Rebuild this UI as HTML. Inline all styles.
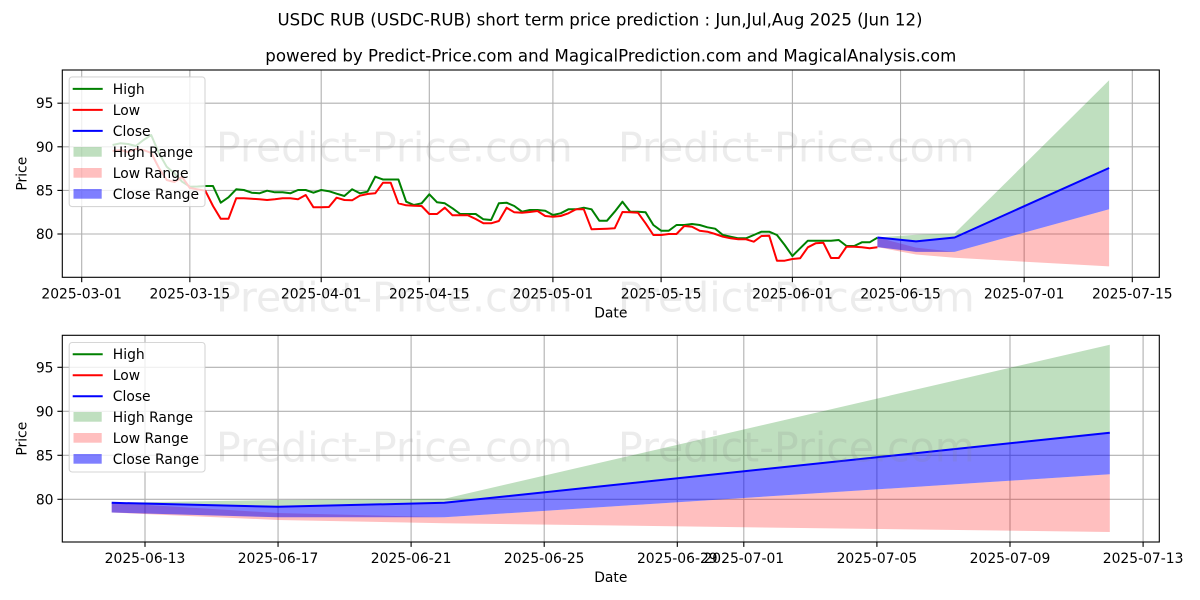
<!DOCTYPE html>
<html>
<head>
<meta charset="utf-8">
<style>
html,body{margin:0;padding:0;background:#fff;}
svg{display:block;}
text{font-family:"DejaVu Sans","Liberation Sans",sans-serif;fill:#000;}
.tk{font-size:13.89px;}
.wm{font-size:41px;fill:#808080;fill-opacity:0.15;}
</style>
</head>
<body>
<svg width="1200" height="600" viewBox="0 0 1200 600" xmlns="http://www.w3.org/2000/svg">
<rect x="0" y="0" width="1200" height="600" fill="#fff"/>

<!-- Titles -->
<text x="600" y="25.5" text-anchor="middle" font-size="16.67" textLength="645" lengthAdjust="spacingAndGlyphs">USDC RUB (USDC-RUB) short term price prediction : Jun,Jul,Aug 2025 (Jun 12)</text>
<text x="610.8" y="61.7" text-anchor="middle" font-size="16.67" textLength="691" lengthAdjust="spacingAndGlyphs">powered by Predict-Price.com and MagicalPrediction.com and MagicalAnalysis.com</text>

<!-- ================= TOP CHART ================= -->
<g stroke="#b0b0b0" stroke-width="1.1" fill="none">
  <line x1="81.7" y1="70" x2="81.7" y2="277.3"/>
  <line x1="189.85" y1="70" x2="189.85" y2="277.3"/>
  <line x1="321.2" y1="70" x2="321.2" y2="277.3"/>
  <line x1="429.3" y1="70" x2="429.3" y2="277.3"/>
  <line x1="552.9" y1="70" x2="552.9" y2="277.3"/>
  <line x1="661.1" y1="70" x2="661.1" y2="277.3"/>
  <line x1="792.4" y1="70" x2="792.4" y2="277.3"/>
  <line x1="900.55" y1="70" x2="900.55" y2="277.3"/>
  <line x1="1024.15" y1="70" x2="1024.15" y2="277.3"/>
  <line x1="1132.3" y1="70" x2="1132.3" y2="277.3"/>
  <line x1="62.3" y1="103.2" x2="1159.3" y2="103.2"/>
  <line x1="62.3" y1="146.8" x2="1159.3" y2="146.8"/>
  <line x1="62.3" y1="190.4" x2="1159.3" y2="190.4"/>
  <line x1="62.3" y1="234" x2="1159.3" y2="234"/>
</g>

<!-- prediction fills top -->
<polygon points="877.4,237.5 916,234.7 954.6,233.4 1109.1,80.3 1109.1,168 954.6,237.5 916,241.4 877.4,237.5" fill="#008000" fill-opacity="0.25"/>
<polygon points="877.4,237.5 916,247.6 954.6,251.9 1109.1,209.2 1109.1,266.4 954.6,257.8 916,254.5 877.4,247.1" fill="#ff0000" fill-opacity="0.25"/>
<polygon points="877.4,237.5 916,241.4 954.6,237.5 1109.1,168 1109.1,209.2 954.6,251.9 916,251.9 877.4,247.1" fill="#0000ff" fill-opacity="0.5"/>

<!-- historical lines -->
<polyline fill="none" stroke="#008000" stroke-width="2" stroke-linejoin="round" points="112.6,145 120.3,143.3 128.05,144 135.8,146 143.5,140 151.2,135 158.95,153.3 166.7,166.7 174.4,173.3 182.1,181.7 189.85,186.7 197.6,186.5 205.3,186 213,186 220.75,202.7 228.5,197.3 236.2,189.3 243.9,190 251.65,192.7 259.4,193.3 267.1,190.7 274.8,192.3 282.55,192.3 290.3,193.3 298,190 305.7,190 313.45,192.7 321.2,190 328.9,191.2 336.6,193.7 344.35,196 352.1,189.3 359.8,193.3 367.5,191.7 375.25,176.7 383,179.5 390.7,179.5 398.4,179.5 406.15,201.7 413.9,205 421.6,203.3 429.3,194.3 437.05,202.3 444.8,203.3 452.5,208.3 460.2,214 467.95,214 475.7,214 483.4,219.3 491.1,220 498.85,203.3 506.6,202.7 514.3,206 522,211.7 529.75,210 537.5,210 545.2,210.7 552.9,215 560.65,213.3 568.4,209.3 576.1,209.3 583.8,207.7 591.55,209.3 599.3,220.7 607,220.7 614.7,211.7 622.45,201.7 630.2,211.7 637.9,211.7 645.6,212.3 653.35,225 661.1,230.7 668.8,230.7 676.5,225 684.25,225 692,224 699.7,225 707.4,227.3 715.15,228.7 722.9,235 730.6,236.7 738.3,238.3 746.05,238.3 753.8,235 761.5,231.7 769.2,231.7 776.95,235 784.7,245 792.4,256 800.1,248.3 807.85,240.7 815.6,240.7 823.3,240.7 831,240.7 838.75,240 846.5,246 854.2,246 861.9,242.3 869.65,242.3 877.4,237.7"/>
<polyline fill="none" stroke="#ff0000" stroke-width="2" stroke-linejoin="round" points="112.6,151 120.3,150 128.05,152 135.8,149 143.5,150 151.2,153 158.95,168 166.7,180 174.4,182 182.1,177 189.85,188 197.6,189.3 205.3,190.7 213,206 220.75,218.8 228.5,218.8 236.2,198.3 243.9,198.3 251.65,198.7 259.4,199.3 267.1,200 274.8,199.3 282.55,198.3 290.3,198.3 298,199.3 305.7,195 313.45,207.3 321.2,207.3 328.9,207 336.6,197.7 344.35,200 352.1,200.3 359.8,195.7 367.5,194 375.25,193.3 383,182.7 390.7,182.7 398.4,203.3 406.15,205.3 413.9,205.7 421.6,206 429.3,214 437.05,214 444.8,207.7 452.5,215.3 460.2,215.3 467.95,215.3 475.7,219 483.4,223.3 491.1,223.3 498.85,221 506.6,207.7 514.3,212.3 522,212.7 529.75,212 537.5,211 545.2,216 552.9,216.7 560.65,216 568.4,213.3 576.1,209.3 583.8,209.3 591.55,229.3 599.3,229 607,228.7 614.7,228.3 622.45,212 630.2,212.3 637.9,212.7 645.6,223.3 653.35,235 661.1,235 668.8,234 676.5,234 684.25,226 692,226.7 699.7,230.7 707.4,231.7 715.15,234 722.9,236.7 730.6,238.3 738.3,239.3 746.05,239.3 753.8,241.7 761.5,236 769.2,235.7 776.95,260.7 784.7,260.7 792.4,259 800.1,258.3 807.85,247.3 815.6,243.3 823.3,242.7 831,258 838.75,258 846.5,246.7 854.2,246.7 861.9,247.3 869.65,248.3 877.4,247.3"/>
<polyline fill="none" stroke="#0000ff" stroke-width="2" stroke-linejoin="round" points="877.4,237.5 916,241.4 954.6,237.5 1109.1,168"/>

<!-- watermarks top -->
<text class="wm" x="216" y="161.7">Predict-Price.com</text>
<text class="wm" x="618" y="161.7">Predict-Price.com</text>
<text class="wm" x="216" y="311.7">Predict-Price.com</text>
<text class="wm" x="618" y="311.7">Predict-Price.com</text>

<!-- spines top -->
<rect x="62.3" y="70" width="1097" height="207.3" fill="none" stroke="#000" stroke-width="1.1"/>

<!-- ticks top -->
<g stroke="#000" stroke-width="1.1">
  <line x1="81.7" y1="277.3" x2="81.7" y2="282.2"/>
  <line x1="189.85" y1="277.3" x2="189.85" y2="282.2"/>
  <line x1="321.2" y1="277.3" x2="321.2" y2="282.2"/>
  <line x1="429.3" y1="277.3" x2="429.3" y2="282.2"/>
  <line x1="552.9" y1="277.3" x2="552.9" y2="282.2"/>
  <line x1="661.1" y1="277.3" x2="661.1" y2="282.2"/>
  <line x1="792.4" y1="277.3" x2="792.4" y2="282.2"/>
  <line x1="900.55" y1="277.3" x2="900.55" y2="282.2"/>
  <line x1="1024.15" y1="277.3" x2="1024.15" y2="282.2"/>
  <line x1="1132.3" y1="277.3" x2="1132.3" y2="282.2"/>
  <line x1="57.4" y1="103.2" x2="62.3" y2="103.2"/>
  <line x1="57.4" y1="146.8" x2="62.3" y2="146.8"/>
  <line x1="57.4" y1="190.4" x2="62.3" y2="190.4"/>
  <line x1="57.4" y1="234" x2="62.3" y2="234"/>
</g>
<g class="tk" text-anchor="middle">
  <text class="tk" x="81.7" y="298.4">2025-03-01</text>
  <text class="tk" x="189.85" y="298.4">2025-03-15</text>
  <text class="tk" x="321.2" y="298.4">2025-04-01</text>
  <text class="tk" x="429.3" y="298.4">2025-04-15</text>
  <text class="tk" x="552.9" y="298.4">2025-05-01</text>
  <text class="tk" x="661.1" y="298.4">2025-05-15</text>
  <text class="tk" x="792.4" y="298.4">2025-06-01</text>
  <text class="tk" x="900.55" y="298.4">2025-06-15</text>
  <text class="tk" x="1024.15" y="298.4">2025-07-01</text>
  <text class="tk" x="1132.3" y="298.4">2025-07-15</text>
</g>
<g text-anchor="end">
  <text class="tk" x="53.5" y="108.2">95</text>
  <text class="tk" x="53.5" y="151.8">90</text>
  <text class="tk" x="53.5" y="195.4">85</text>
  <text class="tk" x="53.5" y="239">80</text>
</g>
<text class="tk" x="610.8" y="317.3" text-anchor="middle">Date</text>
<text class="tk" x="0" y="0" text-anchor="middle" transform="translate(26.5,173.7) rotate(-90)">Price</text>

<!-- legend top -->
<rect x="69.2" y="76.9" width="135.8" height="129.7" rx="3" ry="3" fill="#fff" fill-opacity="0.8" stroke="#cccccc" stroke-opacity="0.8" stroke-width="1.1"/>
<line x1="72.7" y1="88.9" x2="102.7" y2="88.9" stroke="#008000" stroke-width="2"/>
<line x1="72.7" y1="109.9" x2="102.7" y2="109.9" stroke="#ff0000" stroke-width="2"/>
<line x1="72.7" y1="130.9" x2="102.7" y2="130.9" stroke="#0000ff" stroke-width="2"/>
<rect x="73.5" y="147" width="28.2" height="9.7" fill="#008000" fill-opacity="0.25"/>
<rect x="73.5" y="168" width="28.2" height="9.7" fill="#ff0000" fill-opacity="0.25"/>
<rect x="73.5" y="189" width="28.2" height="9.7" fill="#0000ff" fill-opacity="0.5"/>
<text class="tk" x="112.8" y="93.9">High</text>
<text class="tk" x="112.8" y="114.9">Low</text>
<text class="tk" x="112.8" y="135.9">Close</text>
<text class="tk" x="112.8" y="156.9">High Range</text>
<text class="tk" x="112.8" y="177.9">Low Range</text>
<text class="tk" x="112.8" y="198.9">Close Range</text>

<!-- ================= BOTTOM CHART ================= -->
<g stroke="#b0b0b0" stroke-width="1.1" fill="none">
  <line x1="145" y1="335.3" x2="145" y2="542"/>
  <line x1="278.05" y1="335.3" x2="278.05" y2="542"/>
  <line x1="411.1" y1="335.3" x2="411.1" y2="542"/>
  <line x1="544.2" y1="335.3" x2="544.2" y2="542"/>
  <line x1="677.3" y1="335.3" x2="677.3" y2="542"/>
  <line x1="743.8" y1="335.3" x2="743.8" y2="542"/>
  <line x1="876.9" y1="335.3" x2="876.9" y2="542"/>
  <line x1="1010" y1="335.3" x2="1010" y2="542"/>
  <line x1="1143.1" y1="335.3" x2="1143.1" y2="542"/>
  <line x1="62.3" y1="367.3" x2="1159.3" y2="367.3"/>
  <line x1="62.3" y1="411.3" x2="1159.3" y2="411.3"/>
  <line x1="62.3" y1="455.3" x2="1159.3" y2="455.3"/>
  <line x1="62.3" y1="499.3" x2="1159.3" y2="499.3"/>
</g>

<polygon points="111.7,502.8 278.05,500 444.4,498.7 1109.8,344.7 1109.8,432.7 444.4,502.8 278.05,506.8 111.7,502.8" fill="#008000" fill-opacity="0.25"/>
<polygon points="111.7,502.8 278.05,513 444.4,517.3 1109.8,474.3 1109.8,532 444.4,523.3 278.05,520 111.7,512.5" fill="#ff0000" fill-opacity="0.25"/>
<polygon points="111.7,502.8 278.05,506.8 444.4,502.8 1109.8,432.7 1109.8,474.3 444.4,517.3 278.05,517.3 111.7,512.5" fill="#0000ff" fill-opacity="0.5"/>
<polyline fill="none" stroke="#0000ff" stroke-width="2" stroke-linejoin="round" points="111.7,502.8 278.05,506.8 444.4,502.8 1109.8,432.7"/>

<text class="wm" x="216" y="461.7">Predict-Price.com</text>
<text class="wm" x="618" y="461.7">Predict-Price.com</text>

<rect x="62.3" y="335.3" width="1097" height="206.7" fill="none" stroke="#000" stroke-width="1.1"/>

<g stroke="#000" stroke-width="1.1">
  <line x1="145" y1="542" x2="145" y2="546.9"/>
  <line x1="278.05" y1="542" x2="278.05" y2="546.9"/>
  <line x1="411.1" y1="542" x2="411.1" y2="546.9"/>
  <line x1="544.2" y1="542" x2="544.2" y2="546.9"/>
  <line x1="677.3" y1="542" x2="677.3" y2="546.9"/>
  <line x1="743.8" y1="542" x2="743.8" y2="546.9"/>
  <line x1="876.9" y1="542" x2="876.9" y2="546.9"/>
  <line x1="1010" y1="542" x2="1010" y2="546.9"/>
  <line x1="1143.1" y1="542" x2="1143.1" y2="546.9"/>
  <line x1="57.4" y1="367.3" x2="62.3" y2="367.3"/>
  <line x1="57.4" y1="411.3" x2="62.3" y2="411.3"/>
  <line x1="57.4" y1="455.3" x2="62.3" y2="455.3"/>
  <line x1="57.4" y1="499.3" x2="62.3" y2="499.3"/>
</g>
<g text-anchor="middle">
  <text class="tk" x="145" y="563.1">2025-06-13</text>
  <text class="tk" x="278.05" y="563.1">2025-06-17</text>
  <text class="tk" x="411.1" y="563.1">2025-06-21</text>
  <text class="tk" x="544.2" y="563.1">2025-06-25</text>
  <text class="tk" x="677.3" y="563.1">2025-06-29</text>
  <text class="tk" x="743.8" y="563.1">2025-07-01</text>
  <text class="tk" x="876.9" y="563.1">2025-07-05</text>
  <text class="tk" x="1010" y="563.1">2025-07-09</text>
  <text class="tk" x="1143.1" y="563.1">2025-07-13</text>
</g>
<g text-anchor="end">
  <text class="tk" x="53.5" y="372.3">95</text>
  <text class="tk" x="53.5" y="416.3">90</text>
  <text class="tk" x="53.5" y="460.3">85</text>
  <text class="tk" x="53.5" y="504.3">80</text>
</g>
<text class="tk" x="610.8" y="582" text-anchor="middle">Date</text>
<text class="tk" x="0" y="0" text-anchor="middle" transform="translate(26.5,438.7) rotate(-90)">Price</text>

<rect x="69.2" y="342.5" width="135.8" height="129.5" rx="3" ry="3" fill="#fff" fill-opacity="0.8" stroke="#cccccc" stroke-opacity="0.8" stroke-width="1.1"/>
<line x1="72.7" y1="354.2" x2="102.7" y2="354.2" stroke="#008000" stroke-width="2"/>
<line x1="72.7" y1="375.2" x2="102.7" y2="375.2" stroke="#ff0000" stroke-width="2"/>
<line x1="72.7" y1="396.2" x2="102.7" y2="396.2" stroke="#0000ff" stroke-width="2"/>
<rect x="73.5" y="412" width="28.2" height="9.7" fill="#008000" fill-opacity="0.25"/>
<rect x="73.5" y="433" width="28.2" height="9.7" fill="#ff0000" fill-opacity="0.25"/>
<rect x="73.5" y="454" width="28.2" height="9.7" fill="#0000ff" fill-opacity="0.5"/>
<text class="tk" x="112.8" y="359.2">High</text>
<text class="tk" x="112.8" y="380.2">Low</text>
<text class="tk" x="112.8" y="401.2">Close</text>
<text class="tk" x="112.8" y="422">High Range</text>
<text class="tk" x="112.8" y="443">Low Range</text>
<text class="tk" x="112.8" y="464">Close Range</text>
</svg>
</body>
</html>
